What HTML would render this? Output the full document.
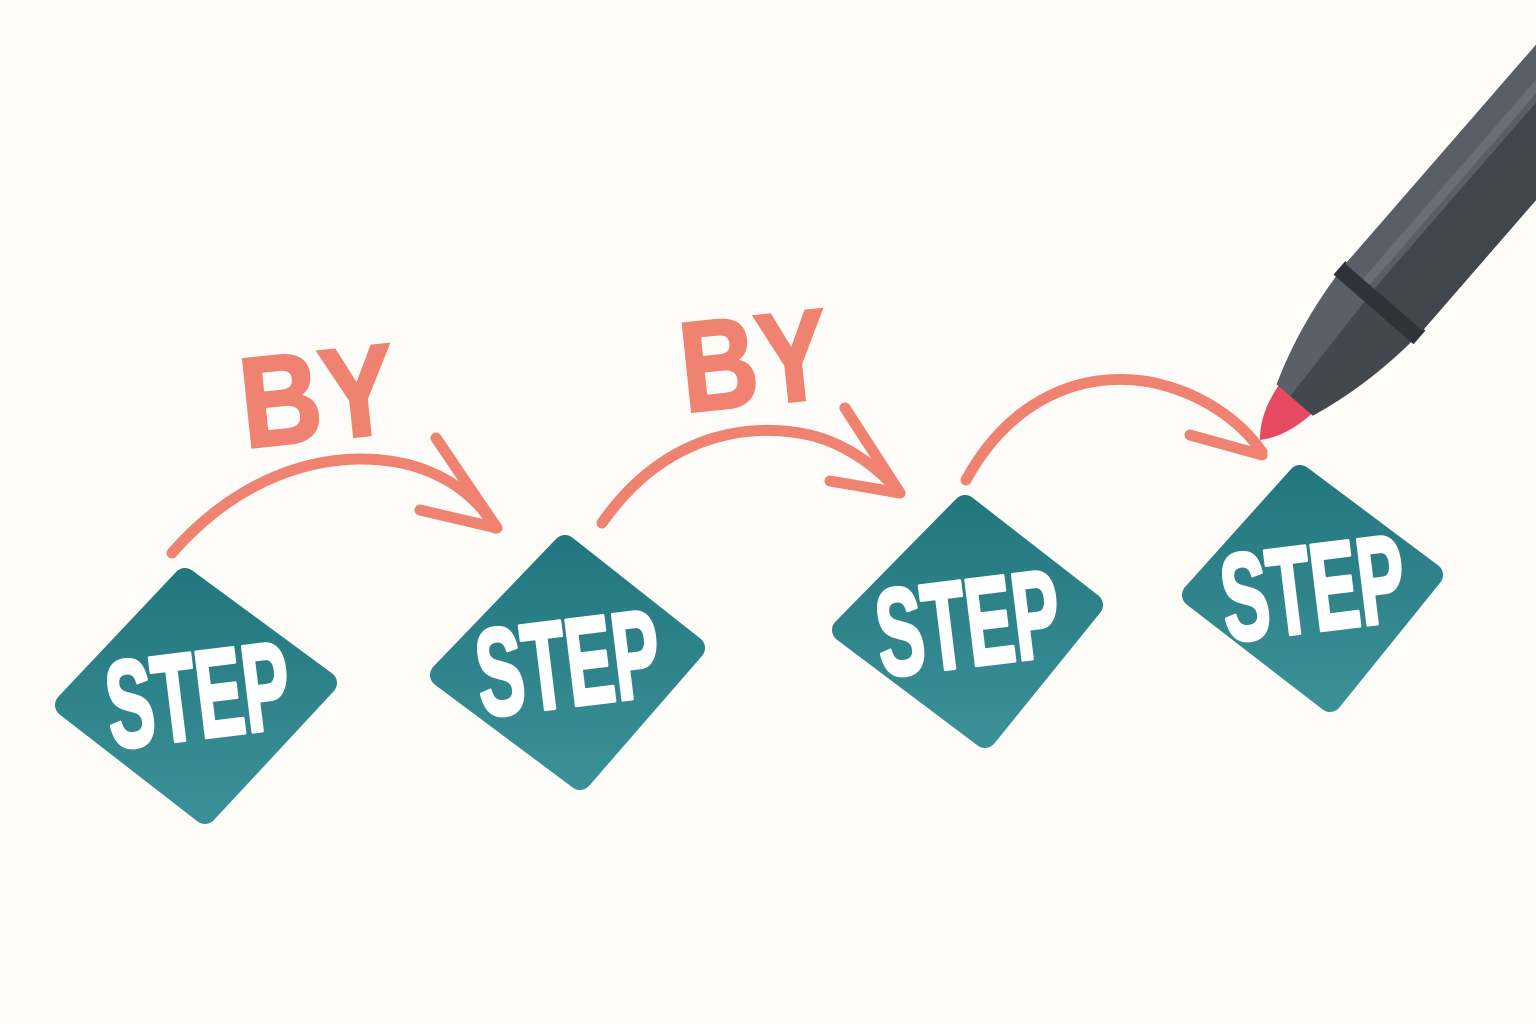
<!DOCTYPE html>
<html><head><meta charset="utf-8"><style>
html,body{margin:0;padding:0;background:#fdfcf8;}
svg{display:block}
.st{font-family:"Liberation Sans",sans-serif;font-weight:bold;fill:#fff;stroke:#fff;stroke-width:4;stroke-linejoin:round;font-size:124px;}
.by{font-family:"Liberation Sans","DejaVu Sans",sans-serif;font-weight:bold;fill:#ef8270;stroke:#ef8270;stroke-width:3;font-size:128px;}
</style></head><body>
<svg width="1536" height="1024" viewBox="0 0 1536 1024" xmlns="http://www.w3.org/2000/svg">
<defs>
<linearGradient id="tg" x1="0" y1="0" x2="0" y2="1"><stop offset="0" stop-color="#23787f"/><stop offset="1" stop-color="#3a9096"/></linearGradient>
</defs>
<rect width="1536" height="1024" fill="#fdfcf8"/>
<g fill="url(#tg)" stroke="url(#tg)" stroke-width="24" stroke-linejoin="round">
<polygon points="185,580 325,683 205,812 67,705"/>
<polygon points="565,547 693,648 580,778 442,675"/>
<polygon points="965,507 1091,605 985,736 844,630"/>
<polygon points="1300,477 1431,575 1330,700 1194,595"/>
</g>
<text class="st" x="106" y="738" textLength="184" lengthAdjust="spacingAndGlyphs" transform="rotate(-7 198 695)">STEP</text>
<text class="st" x="476" y="706" textLength="184" lengthAdjust="spacingAndGlyphs" transform="rotate(-7 568 663)">STEP</text>
<text class="st" x="876" y="666" textLength="184" lengthAdjust="spacingAndGlyphs" transform="rotate(-7 968 623)">STEP</text>
<text class="st" x="1221" y="631" textLength="184" lengthAdjust="spacingAndGlyphs" transform="rotate(-7 1313 588)">STEP</text>
<g fill="none" stroke="#ef8270" stroke-width="11" stroke-linecap="round" stroke-linejoin="round">
<path d="M172,553 C240,475 330,445 410,465 C450,476 480,500 495,528"/>
<path d="M436,438 L497,528 L420,510"/>
<path d="M602,523 C660,440 740,420 810,435 C850,445 880,470 900,493"/>
<path d="M845,408 L900,493 L830,481"/>
<path d="M966,480 C1010,400 1080,370 1150,382 C1200,392 1240,420 1262,452"/>
<path d="M1190,435 L1262,455"/>
</g>
<text class="by" x="240" y="440" textLength="155" lengthAdjust="spacingAndGlyphs" transform="rotate(-6 318 395)">BY</text>
<text class="by" x="680" y="405" textLength="148" lengthAdjust="spacingAndGlyphs" transform="rotate(-6 752 360)">BY</text>
<g transform="translate(1260,440) rotate(-49)">
<path d="M0,0 Q20,-18 55,-22 L55,22 Q20,18 0,0 Z" fill="#e54a62"/>
<path d="M53,-24 Q110,-45 175,-50 L175,50 Q110,45 53,24 Z" fill="#43474e"/>
<path d="M53,-24 Q110,-45 175,-50 L175,-12 L53,-6 Z" fill="#5b6068"/>
<rect x="173" y="-53" width="18" height="106" fill="#2f3238"/>
<rect x="189" y="-51" width="400" height="102" fill="#41454c"/>
<rect x="189" y="-51" width="400" height="38" fill="#5a5f67"/>
<rect x="189" y="-28" width="400" height="9" fill="#6a6f77"/>
</g>
</svg>
</body></html>
